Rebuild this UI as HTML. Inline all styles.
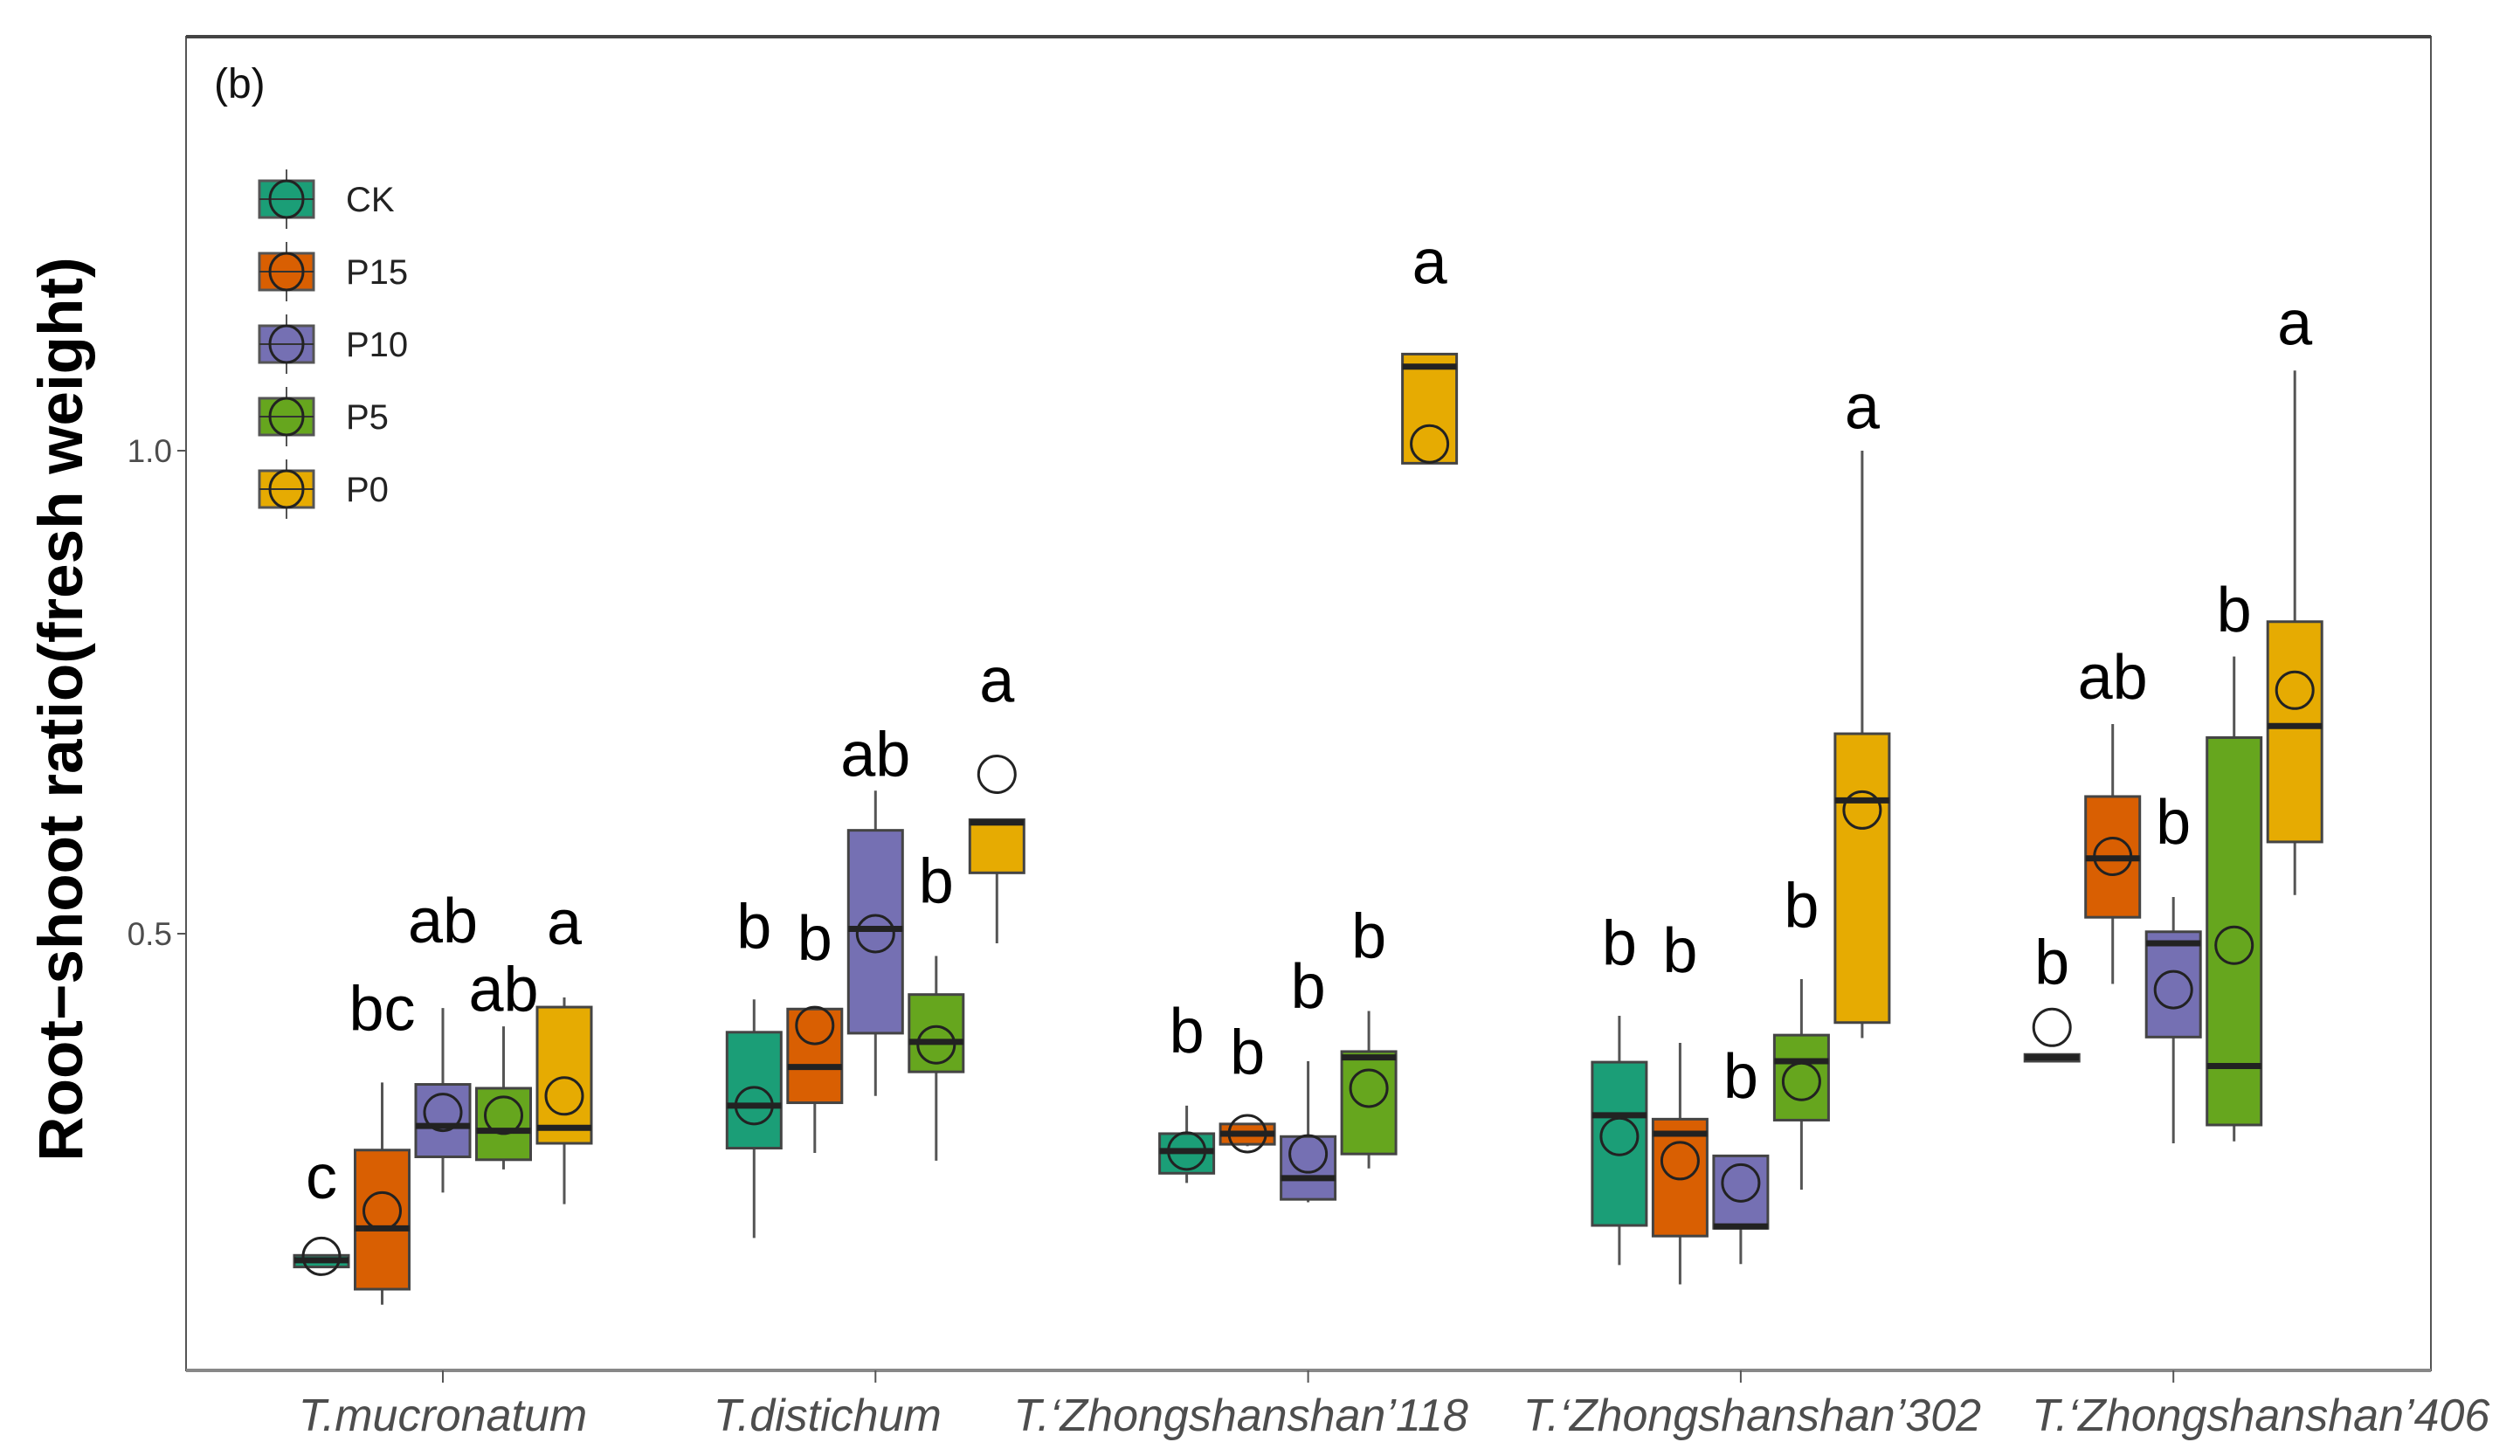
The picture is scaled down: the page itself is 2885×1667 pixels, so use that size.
<!DOCTYPE html>
<html><head><meta charset="utf-8"><style>
html,body{margin:0;padding:0;background:#fff;}
svg{display:block;font-family:"Liberation Sans",Arial,sans-serif;}
</style></head><body>
<svg id="chart" width="2885" height="1667" viewBox="0 0 2885 1667" xmlns="http://www.w3.org/2000/svg">
<rect x="0" y="0" width="2885" height="1667" fill="#fff"/>
<g id="plot"></g>
</svg>
<script>
const categories = ["T.mucronatum","T.distichum","T.\u2018Zhongshanshan\u2019118","T.\u2018Zhongshanshan\u2019302","T.\u2018Zhongshanshan\u2019406"];
const treatments = ["CK","P15","P10","P5","P0"];
const colors = ["#1b9e77","#d95f02","#7570b3","#66a61e","#e6ab02"];
const yTicks = [0.5, 1.0];
const yTickLabels = ["0.5","1.0"];
// per category, per treatment: [low, q1, median, q3, high]
const boxStats = [
  [[0.155,0.155,0.162,0.167,0.167],[0.116,0.132,0.195,0.276,0.346],[0.232,0.269,0.301,0.344,0.423],[0.256,0.266,0.296,0.340,0.404],[0.220,0.283,0.299,0.424,0.434]],
  [[0.185,0.278,0.322,0.398,0.432],[0.273,0.325,0.362,0.422,0.422],[0.332,0.397,0.505,0.607,0.648],[0.265,0.357,0.388,0.437,0.477],[0.490,0.563,0.615,0.618,0.618]],
  [[0.242,0.252,0.275,0.293,0.322],[0.280,0.282,0.293,0.303,0.303],[0.222,0.225,0.247,0.290,0.368],[0.257,0.272,0.372,0.378,0.420],[0.987,0.987,1.087,1.100,1.100]],
  [[0.157,0.198,0.312,0.367,0.415],[0.137,0.187,0.293,0.308,0.387],[0.158,0.195,0.197,0.270,0.270],[0.235,0.307,0.368,0.395,0.453],[0.392,0.408,0.638,0.707,1.000]],
  [[0.368,0.368,0.372,0.375,0.375],[0.448,0.517,0.578,0.642,0.717],[0.283,0.393,0.490,0.502,0.538],[0.285,0.302,0.363,0.703,0.787],[0.540,0.595,0.715,0.823,1.083]]
];
const means = [
  [0.166,0.213,0.315,0.312,0.332],
  [0.322,0.405,0.500,0.385,0.665],
  [0.275,0.293,0.272,0.340,1.007],
  [0.290,0.265,0.242,0.347,0.628],
  [0.403,0.580,0.442,0.488,0.752]
];
const sigLetters = [
  ["c","bc","ab","ab","a"],
  ["b","b","ab","b","a"],
  ["b","b","b","b","a"],
  ["b","b","b","b","a"],
  ["b","ab","b","b","a"]
];
const sigLabelY = [
  [0.226,0.400,0.491,0.420,0.489],
  [0.485,0.473,0.663,0.532,0.740],
  [0.377,0.355,0.423,0.475,1.173],
  [0.468,0.460,0.330,0.507,1.023],
  [0.448,0.743,0.593,0.813,1.110]
];

const PL=213, PR=2783, PT=42, PB=1569;
const labelShift=[0,-55,-77,13,100];
function yScale(v){ return 516 + (1 - v) * 1106; }
function xCat(i){ return 507 + i * 495.3; }
function xBox(i,j){ return xCat(i) + (j - 2) * 69.5; }
const BW = 62;
const NS="http://www.w3.org/2000/svg";
const g=document.getElementById('plot');
function mk(tag, attrs, parent){ const e=document.createElementNS(NS,tag); for(const k in attrs) e.setAttribute(k,attrs[k]); (parent||g).appendChild(e); return e; }

let e = mk('rect',{x:PL,y:PT,width:PR-PL,height:PB-PT,fill:'none',stroke:'#555','stroke-width':2});


e = mk('line',{x1:PL,y1:PT,x2:PR,y2:PT,stroke:'#444','stroke-width':4});


e = mk('line',{x1:PL,y1:PB,x2:PR,y2:PB,stroke:'#888','stroke-width':4});



yTicks.forEach((t,k)=>{
  const y=yScale(t);
  let l=mk('line',{x1:PL-10,y1:y,x2:PL,y2:y,stroke:'#555','stroke-width':2});
  
  
  let tx=mk('text',{x:PL-16,y:y+13,'text-anchor':'end','font-size':37,fill:'#4d4d4d'});
  tx.textContent=yTickLabels[k];
  
  
});
e=mk('text',{x:0,y:0,transform:'translate(94,812) rotate(-90)','text-anchor':'middle','font-size':71,'font-weight':'bold',fill:'#000'});
e.textContent='Root\u2212shoot ratio(fresh weight)';



categories.forEach((c,i)=>{
  const x=xCat(i);
  let l=mk('line',{x1:x,y1:PB,x2:x,y2:PB+14,stroke:'#555','stroke-width':2});
  
  
  let tx=mk('text',{x:x+labelShift[i],y:1638,'text-anchor':'middle','font-size':52,'font-style':'italic',fill:'#4d4d4d'});
  tx.textContent=c;
  
  
});

boxStats.forEach((grp,i)=>{
  grp.forEach((s,j)=>{
    const x=xBox(i,j);
    const bg=mk('g',{});
    
    
    mk('line',{x1:x,y1:yScale(s[4]),x2:x,y2:yScale(s[0]),stroke:'#555','stroke-width':3},bg);
    const top=yScale(s[3]), bot=yScale(s[1]);
    mk('rect',{x:x-BW/2,y:top,width:BW,height:Math.max(bot-top,2),fill:colors[j],stroke:'#444','stroke-width':3},bg);
    mk('line',{x1:x-BW/2,y1:yScale(s[2]),x2:x+BW/2,y2:yScale(s[2]),stroke:'#222','stroke-width':7},bg);
    const m=mk('circle',{cx:x,cy:yScale(means[i][j]),r:21,fill:'none',stroke:'#222','stroke-width':3},bg);
    
    
    const t=mk('text',{x:x,y:yScale(sigLabelY[i][j]),'text-anchor':'middle','font-size':72,fill:'#000'});
    t.textContent=sigLetters[i][j];
    
    
  });
});

e=mk('text',{x:245,y:112,'font-size':48,fill:'#111'});
e.textContent='(b)';



const lg=mk('g',{});


treatments.forEach((t,j)=>{
  const cy=228+j*83, cx=328;
  const eg=mk('g',{},lg);
  
  
  mk('line',{x1:cx,y1:cy-34,x2:cx,y2:cy+34,stroke:'#555','stroke-width':2},eg);
  mk('rect',{x:cx-31,y:cy-21,width:62,height:42,fill:colors[j],stroke:'#555','stroke-width':3},eg);
  mk('line',{x1:cx-31,y1:cy,x2:cx+31,y2:cy,stroke:'#333','stroke-width':2},eg);
  mk('ellipse',{cx:cx,cy:cy,rx:19,ry:21,fill:'none',stroke:'#222','stroke-width':3},eg);
  const tx=mk('text',{x:396,y:cy+14,'font-size':40,fill:'#222'},eg);
  tx.textContent=t;
});
</script>
</body></html>
